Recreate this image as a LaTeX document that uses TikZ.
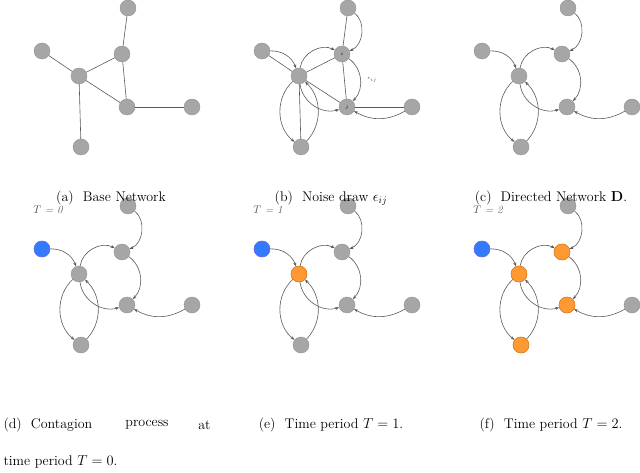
\documentclass[tikz,border=0pt]{standalone}
\usepackage{amsmath}
\usetikzlibrary{arrows.meta}
\begin{document}
\begin{tikzpicture}[x=1pt,y=-1pt,
 nd/.style={circle,fill=gray!70,draw=gray!85,minimum size=16pt,inner sep=0pt},
 bl/.style={nd,fill=blue!65!cyan!80,draw=blue!60},
 orn/.style={nd,fill=orange!80,draw=orange!90!black},
 ed/.style={draw=black!65,line width=0.6pt},
 ar/.style={ed,-{Stealth[length=4pt]}},
 capt/.style={font=\fontsize{14}{17}\selectfont},
 tl/.style={font=\fontsize{11}{13}\selectfont\itshape,text=black!65}]
\useasboundingbox (0,0) rectangle (640,473);
\newcommand\placenodes[3]{%
 \node[nd] (#1A) at (128+#2,8+#3) {};
 \node[nd] (#1B) at (42+#2,51+#3) {};
 \node[nd] (#1C) at (122+#2,54+#3) {};
 \node[nd] (#1D) at (79+#2,76+#3) {};
 \node[nd] (#1E) at (127+#2,107+#3) {};
 \node[nd] (#1F) at (192+#2,107+#3) {};
 \node[nd] (#1G) at (81+#2,147+#3) {};}
\newcommand\directed[1]{%
 \draw[ar] (#1B) to[bend left=35] (#1D);
 \draw[ar] (#1A) to[bend left=60] (#1C);
 \draw[ar] (#1D) to[bend left=55] (#1C);
 \draw[ar] (#1C) to[bend left=50] (#1E);
 \draw[ar] (#1D) to[bend right=50] (#1E);
 \draw[ar] (#1F) to[bend left=30] (#1E);
 \draw[ar] (#1D) to[bend right=50] (#1G);
 \draw[ar] (#1G) to[bend right=45] (#1D);}
% (a)
\placenodes{a}{0}{0}
\foreach \u/\v in {B/D,A/C,D/C,C/E,D/E,E/F,D/G} \draw[ed] (a\u)--(a\v);
% (b)
\placenodes{b}{220}{0}
\foreach \u/\v in {B/D,A/C,D/C,C/E,D/E,E/F,D/G} \draw[ed] (b\u)--(b\v);
\directed{b}
\node[font=\tiny\itshape] at (bC) {$i$};
\node[font=\tiny\itshape] at (bE) {$j$};
\node[font=\tiny,text=black!70] at (372,80) {$\epsilon_{ij}$};
% (c)
\placenodes{c}{440}{0}
\directed{c}
% (d)
\placenodes{d}{0}{198}
\node[bl] at (dB) {};
\directed{d}
% (e)
\placenodes{e}{220}{198}
\node[bl] at (eB) {};
\node[orn] at (eD) {};
\directed{e}
% (f)
\placenodes{f}{440}{198}
\node[bl] at (fB) {};
\node[orn] at (fD) {};
\node[orn] at (fC) {};
\node[orn] at (fE) {};
\node[orn] at (fG) {};
\directed{f}
\node[tl] at (48,210) {$T$ = 0};
\node[tl] at (268,210) {$T$ = 1};
\node[tl] at (488,210) {$T$ = 2};
% captions
\node[capt] at (111,198) {(a)\ \ Base Network};
\node[capt] at (331,198) {(b)\ \ Noise draw $\epsilon_{ij}$};
\node[capt] at (551,198) {(c)\ \ Directed Network $\mathbf{D}$.};
\node[capt,anchor=west] at (0,425) {(d)\ \ Contagion};
\node[capt] at (147,425) {process};
\node[capt,anchor=east] at (214,425) {at};
\node[capt,anchor=west] at (0,462) {time period $T=0$.};
\node[capt] at (331,425) {(e)\ \ Time period $T=1$.};
\node[capt] at (551,425) {(f)\ \ Time period $T=2$.};
\end{tikzpicture}
\end{document}
